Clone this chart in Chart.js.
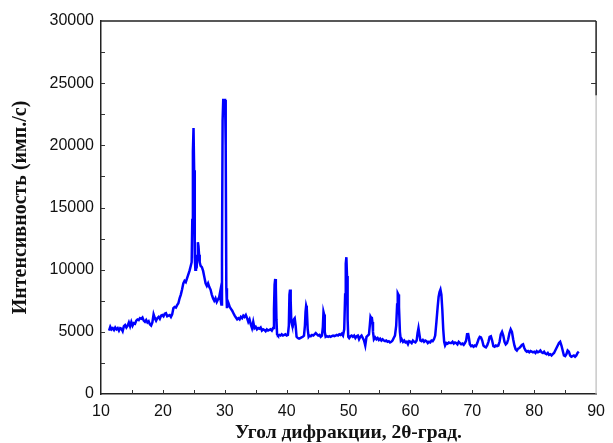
<!DOCTYPE html>
<html lang="ru">
<head>
  <meta charset="UTF-8" />
  <title>Дифрактограмма</title>
  <style>
    * {
      margin: 0;
      padding: 0;
      box-sizing: border-box;
    }
    body {
      background-color: #ffffff;
    }
    .chart-box {
      width: 613px;
      height: 443px;
      position: relative;
    }
  </style>
</head>
<body>
  <div class="chart-box">
    <canvas id="xrdChart"></canvas>
  </div>

  <script src="https://cdn.jsdelivr.net/npm/chart.js"></script>
  <script>
    // 2θ angles (deg)
    const angles = [
      11.3, 11.5, 11.7, 11.9, 12.1, 12.3, 12.5, 12.7, 12.9, 13.1,
      13.3, 13.5, 13.7, 13.9, 14.1, 14.3, 14.5, 14.7, 14.9, 15.1,
      15.3, 15.5, 15.7, 15.9, 16.1, 16.3, 16.5, 16.7, 16.9, 17.1,
      17.3, 17.5, 17.7, 17.9, 18.1, 18.3, 18.5, 18.7, 18.9, 19.1,
      19.3, 19.5, 19.7, 19.9, 20.1, 20.3, 20.5, 20.7, 20.9, 21.1,
      21.3, 21.5, 21.7, 21.9, 22.1, 22.3, 22.5, 22.7, 22.9, 23.1,
      23.3, 23.5, 23.7, 23.9, 24.1, 24.3, 24.5, 24.65, 24.75, 24.85,
      24.95, 25.05, 25.15, 25.25, 25.35, 25.45, 25.55, 25.65, 25.75, 25.85,
      25.95, 26.1, 26.3, 26.5, 26.7, 26.9, 27.1, 27.3, 27.5, 27.7,
      27.9, 28.1, 28.3, 28.5, 28.7, 28.9, 29.1, 29.25, 29.35, 29.45,
      29.55, 29.65, 29.75, 29.85, 29.95, 30.05, 30.15, 30.25, 30.35, 30.45,
      30.6, 30.8, 31.0, 31.2, 31.4, 31.6, 31.8, 32.0, 32.2, 32.4,
      32.6, 32.8, 33.0, 33.2, 33.4, 33.6, 33.8, 34.0, 34.2, 34.4,
      34.6, 34.8, 35.0, 35.2, 35.4, 35.6, 35.8, 36.0, 36.2, 36.4,
      36.6, 36.8, 37.0, 37.2, 37.4, 37.6, 37.8, 37.95, 38.05, 38.15,
      38.25, 38.35, 38.45, 38.6, 38.8, 39.0, 39.2, 39.4, 39.6, 39.8,
      40.0, 40.2, 40.35, 40.45, 40.55, 40.65, 40.75, 40.85, 41.0, 41.15,
      41.3, 41.45, 41.6, 41.8, 42.0, 42.2, 42.4, 42.6, 42.8, 42.95,
      43.05, 43.15, 43.25, 43.4, 43.55, 43.7, 43.9, 44.1, 44.3, 44.5,
      44.7, 44.9, 45.1, 45.3, 45.5, 45.7, 45.85, 45.95, 46.05, 46.15,
      46.3, 46.5, 46.7, 46.9, 47.1, 47.3, 47.5, 47.7, 47.9, 48.1,
      48.3, 48.5, 48.7, 48.9, 49.1, 49.3, 49.45, 49.55, 49.65, 49.75,
      49.85, 49.95, 50.1, 50.3, 50.5, 50.7, 50.9, 51.1, 51.3, 51.5,
      51.7, 51.9, 52.1, 52.3, 52.5, 52.7, 52.9, 53.1, 53.3, 53.45,
      53.55, 53.65, 53.75, 53.85, 53.95, 54.1, 54.3, 54.5, 54.7, 54.9,
      55.1, 55.3, 55.5, 55.7, 55.9, 56.1, 56.3, 56.5, 56.7, 56.9,
      57.1, 57.3, 57.5, 57.7, 57.85, 57.95, 58.05, 58.15, 58.3, 58.45,
      58.6, 58.8, 59.0, 59.2, 59.4, 59.6, 59.8, 60.0, 60.2, 60.4,
      60.6, 60.8, 61.0, 61.15, 61.3, 61.45, 61.6, 61.8, 62.0, 62.2,
      62.4, 62.6, 62.8, 63.0, 63.2, 63.4, 63.6, 63.8, 64.0, 64.2,
      64.4, 64.55, 64.7, 64.85, 65.0, 65.15, 65.3, 65.45, 65.6, 65.8,
      66.0, 66.2, 66.4, 66.6, 66.8, 67.0, 67.2, 67.4, 67.6, 67.8,
      68.0, 68.2, 68.4, 68.6, 68.8, 69.0, 69.15, 69.3, 69.45, 69.6,
      69.8, 70.0, 70.2, 70.4, 70.6, 70.8, 71.0, 71.2, 71.4, 71.6,
      71.8, 72.0, 72.2, 72.4, 72.6, 72.8, 73.0, 73.2, 73.4, 73.6,
      73.8, 74.0, 74.2, 74.4, 74.6, 74.8, 75.0, 75.2, 75.4, 75.6,
      75.8, 76.0, 76.2, 76.4, 76.6, 76.8, 77.0, 77.2, 77.4, 77.6,
      77.8, 78.0, 78.2, 78.4, 78.6, 78.8, 79.0, 79.2, 79.4, 79.6,
      79.8, 80.0, 80.2, 80.4, 80.6, 80.8, 81.0, 81.2, 81.4, 81.6,
      81.8, 82.0, 82.2, 82.4, 82.6, 82.8, 83.0, 83.2, 83.4, 83.6,
      83.8, 84.0, 84.2, 84.4, 84.6, 84.8, 85.0, 85.2, 85.4, 85.6,
      85.8, 86.0, 86.2, 86.4, 86.6, 86.8, 87.0, 87.2
    ];

    // intensity (counts/s) at each angle
    const counts = [
      5100, 5400, 5200, 5300, 5150, 5350, 5200, 5300, 5100, 5300,
      5250, 5050, 5450, 5550, 5350, 5500, 5750, 5450, 5800, 5500,
      5700, 5650, 5900, 6000, 5950, 6100, 6050, 6150, 5900, 5800,
      5950, 5750, 5850, 5600, 5500, 5750, 6400, 6100, 5900, 6100,
      6200, 6050, 6300, 6350, 6250, 6450, 6500, 6250, 6300, 6350,
      6200, 6400, 6900, 7000, 6950, 7150, 7300, 7700, 8000, 8400,
      8900, 9100, 9000, 9300, 9600, 9900, 10300, 10600, 14000, 19500,
      21400, 18000, 11000, 10000, 11200, 10100, 11000, 12200, 11900, 11200,
      10600, 10300, 10200, 9900, 9400, 8900, 8700, 8900, 8600, 8400,
      8000, 7700, 7500, 7700, 7400, 7600, 7800, 8200, 7500, 7200,
      11000, 22000, 23650, 23650, 23650, 23650, 20000, 8500, 6900, 7500,
      7300, 7000, 6850, 6700, 6500, 6300, 6150, 6000, 6100, 6000,
      6200, 6100, 6300, 6200, 6350, 6100, 5800, 6000, 5600, 5300,
      5800, 5300, 5400, 5200, 5300, 5250, 5350, 5100, 5200, 5150,
      5050, 5200, 5100, 5150, 5200, 5100, 5300, 6800, 8800, 9250,
      8600, 6000, 4800, 4700, 4750, 4700, 4800, 4700, 4750, 4800,
      4700, 4750, 5500, 8000, 8400, 7500, 5800, 5600, 5500, 6000,
      6100, 5500, 4600, 4500, 4450, 4500, 4550, 4600, 4700, 5500,
      6600, 7100, 6900, 5200, 4600, 4700, 4650, 4750, 4700, 4800,
      4900, 4800, 4700, 4750, 4600, 4700, 5400, 6600, 6400, 5000,
      4600, 4650, 4600, 4650, 4600, 4650, 4700, 4650, 4700, 4750,
      4700, 4800, 4750, 4850, 4700, 5200, 8000, 10500, 11000, 9500,
      6000, 4600, 4500, 4650, 4700, 4600, 4700, 4500, 4650, 4700,
      4400, 4600, 4700, 4500, 4300, 3900, 4600, 4700, 4800, 5600,
      6200, 6100, 6200, 5800, 5000, 4400, 4550, 4400, 4500, 4350,
      4450, 4300, 4400, 4300, 4250, 4300, 4200, 4250, 4150, 4200,
      4300, 4500, 4700, 5500, 7200, 8100, 8000, 7000, 5000, 4300,
      4400, 4200, 4300, 4150, 4200, 4000, 4250, 4200, 4100, 4300,
      4200, 4150, 4300, 4900, 5300, 4800, 4300, 4250, 4350, 4200,
      4300, 4250, 4100, 4200, 4150, 4300, 4250, 4400, 4700, 5800,
      7000, 7800, 8200, 8400, 8000, 6800, 5200, 4200, 3900, 4100,
      4050, 4150, 4100, 4100, 4200, 4050, 4150, 4100, 4000, 4200,
      4100, 4000, 4050, 3950, 4100, 4300, 4800, 4900, 4500, 4000,
      3850, 3900, 3800, 3900, 3850, 4100, 4400, 4600, 4550, 4300,
      3900, 3800, 3750, 3900, 4200, 4600, 4650, 4300, 3850, 3800,
      3900, 3850, 3900, 4200, 4800, 5000, 4700, 4200, 4000, 4100,
      4400, 4900, 5200, 5000, 4400, 3900, 3600, 3500, 3650, 3700,
      3800, 3950, 4000, 3700, 3500, 3400, 3450, 3350, 3450, 3400,
      3350, 3400, 3300, 3450, 3350, 3400, 3500, 3350, 3300, 3400,
      3250, 3200, 3300, 3150, 3200, 3100, 3200, 3300, 3500, 3700,
      3900, 4100, 4200, 3900, 3500, 3100, 3050, 3200, 3500, 3400,
      3100, 3000, 3050, 3100, 3000, 3100, 3300, 3400
    ];

    const xTitle = 'Угол дифракции, 2θ-град.';
    const yTitle = 'Интенсивность (имп./с)';

    const points = angles.map((a, i) => ({ x: a, y: counts[i] }));

    // frame on top/right + small inward ticks, like the original plot
    const frameTicks = {
      id: 'frameTicks',
      afterDraw(chart) {
        const c = chart.ctx;
        const xs = chart.scales.x;
        const ys = chart.scales.y;
        const { left, right, top, bottom } = chart.chartArea;
        c.save();
        c.strokeStyle = '#222';
        c.lineWidth = 1.5;
        c.beginPath();
        c.moveTo(left, top);
        c.lineTo(right, top);
        c.moveTo(right, top);
        c.lineTo(right, ys.getPixelForValue(24000));
        c.stroke();
        c.strokeStyle = '#bbb';
        c.lineWidth = 1.2;
        c.beginPath();
        c.moveTo(right, ys.getPixelForValue(24000));
        c.lineTo(right, bottom);
        c.stroke();

        c.strokeStyle = '#333';
        c.lineWidth = 1;
        c.beginPath();
        for (let v = 2500; v < 30000; v += 2500) {
          const py = Math.round(ys.getPixelForValue(v)) + 0.5;
          c.moveTo(left, py);
          c.lineTo(left + 4, py);
        }
        [27500, 25000].forEach(v => {
          const py = Math.round(ys.getPixelForValue(v)) + 0.5;
          c.moveTo(right, py);
          c.lineTo(right - 5, py);
        });
        for (let a = 15; a < 90; a += 5) {
          const px = Math.round(xs.getPixelForValue(a)) + 0.5;
          c.moveTo(px, bottom);
          c.lineTo(px, bottom - 4);
        }
        c.stroke();
        c.restore();
      }
    };

    const ctx = document.getElementById('xrdChart').getContext('2d');
    new Chart(ctx, {
      type: 'line',
      data: {
        datasets: [{
          label: 'XRD',
          data: points,
          borderColor: '#0000ff',
          borderWidth: 2.5,
          pointRadius: 0,
          tension: 0,
          fill: false
        }]
      },
      options: {
        responsive: true,
        maintainAspectRatio: false,
        animation: false,
        layout: { padding: { top: 21, right: 10, left: 0, bottom: 0 } },
        plugins: {
          legend: { display: false },
          tooltip: { enabled: false }
        },
        scales: {
          x: {
            type: 'linear',
            min: 10,
            max: 90,
            afterFit: s => { s.height = 49; },
            grid: { display: false, drawTicks: false },
            border: { display: true, color: '#222', width: 1.5 },
            ticks: {
              stepSize: 10,
              padding: 8,
              color: '#111',
              font: { family: 'Liberation Sans, Arial, sans-serif', size: 16 },
              callback: v => v
            },
            title: {
              display: true,
              text: xTitle,
              color: '#111',
              padding: { top: 0, bottom: 0 },
              font: { family: 'Liberation Serif, Times New Roman, serif', size: 19.5, weight: 'bold', lineHeight: 1 }
            }
          },
          y: {
            min: 0,
            max: 30000,
            afterFit: s => { s.width = 101; },
            grid: { display: false, drawTicks: false },
            border: { display: true, color: '#222', width: 1.5 },
            ticks: {
              stepSize: 5000,
              padding: 7,
              color: '#111',
              font: { family: 'Liberation Sans, Arial, sans-serif', size: 16 },
              callback: v => v
            },
            title: {
              display: true,
              text: yTitle,
              color: '#111',
              padding: { top: 11, bottom: 0 },
              font: { family: 'Liberation Serif, Times New Roman, serif', size: 20, weight: 'bold', lineHeight: 1 }
            }
          }
        }
      },
      plugins: [frameTicks]
    });
  </script>
</body>
</html>
